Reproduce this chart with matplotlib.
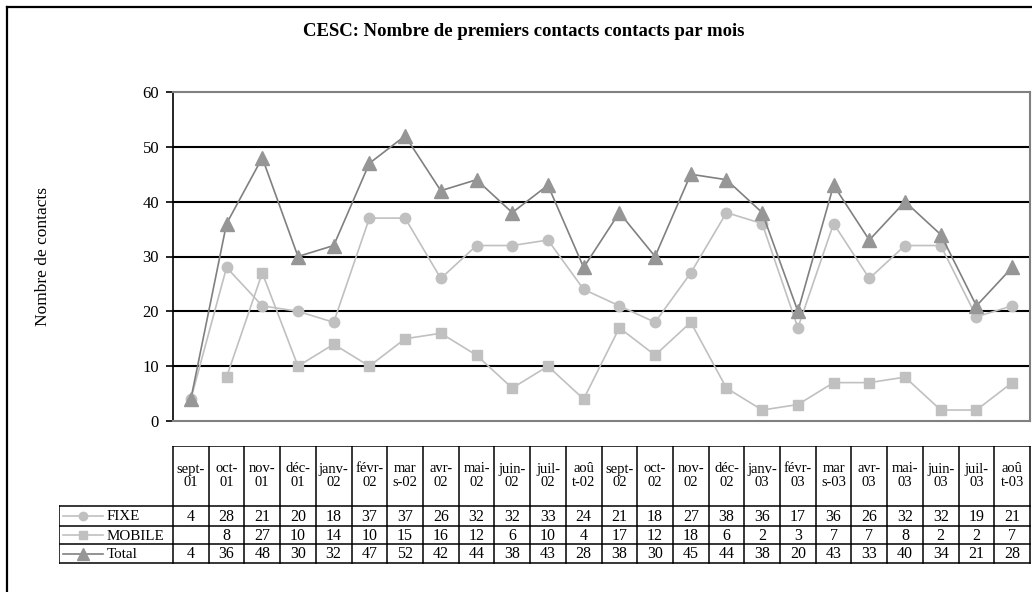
import numpy as np
import matplotlib
matplotlib.use("Agg")
import matplotlib.pyplot as plt
from matplotlib.lines import Line2D

plt.rcParams['font.family'] = ['Liberation Serif', 'DejaVu Serif']

# donnees
mois = ["sept-\n01", "oct-\n01", "nov-\n01", "déc-\n01", "janv-\n02", "févr-\n02",
        "mar\ns-02", "avr-\n02", "mai-\n02", "juin-\n02", "juil-\n02", "aoû\nt-02",
        "sept-\n02", "oct-\n02", "nov-\n02", "déc-\n02", "janv-\n03", "févr-\n03",
        "mar\ns-03", "avr-\n03", "mai-\n03", "juin-\n03", "juil-\n03", "aoû\nt-03"]
fixe = [4, 28, 21, 20, 18, 37, 37, 26, 32, 32, 33, 24, 21, 18, 27, 38, 36, 17, 36, 26, 32, 32, 19, 21]
mobile = [np.nan, 8, 27, 10, 14, 10, 15, 16, 12, 6, 10, 4, 17, 12, 18, 6, 2, 3, 7, 7, 8, 2, 2, 7]
total = [4, 36, 48, 30, 32, 47, 52, 42, 44, 38, 43, 28, 38, 30, 45, 44, 38, 20, 43, 33, 40, 34, 21, 28]
series = ["FIXE", "MOBILE", "Total"]
yticks = [0, 10, 20, 30, 40, 50, 60]

W, H = 1032, 592
fig = plt.figure(figsize=(W / 100, H / 100), dpi=100)

def fbox(x0, y0, x1, y1):
    # pixels (origine en haut a gauche) -> fraction de figure
    return [x0 / W, 1 - y1 / H, (x1 - x0) / W, (y1 - y0) / H]

# cadre exterieur
fig.add_artist(Line2D([6.5 / W, 6.5 / W], [0, 1 - 6.5 / H], color='black', lw=1.6))
fig.add_artist(Line2D([6.5 / W, 1], [1 - 6.5 / H, 1 - 6.5 / H], color='black', lw=1.6))

styles = {
    "FIXE": dict(color='#C0C0C0', marker='o', ms=7.5, mfc='#C0C0C0', mec='#C0C0C0'),
    "MOBILE": dict(color='#C0C0C0', marker='s', ms=7.5, mfc='#C0C0C0', mec='#C0C0C0'),
    "Total": dict(color='#808080', marker='^', ms=10.5, mfc='#969696', mec='#969696'),
}
data = {"FIXE": fixe, "MOBILE": mobile, "Total": total}

ax_left, ax_right = 173, 1030
ax = fig.add_axes(fbox(ax_left, 92, ax_right, 421))
n = len(mois)
x = np.arange(n) + 0.5
for s in series:
    ax.plot(x, data[s], lw=1.2, zorder=3, clip_on=False, **styles[s])
ax.set_xlim(0, n)
ax.set_ylim(0, 60)
ax.set_yticks(yticks)
ax.set_xticks([])
for v in yticks[1:-1]:
    ax.axhline(v, color='black', lw=1.5, zorder=1)
for side in ['top', 'right', 'bottom']:
    ax.spines[side].set_color('#808080')
    ax.spines[side].set_linewidth(1.5)
ax.spines['left'].set_color('black')
ax.spines['left'].set_linewidth(1.2)
ax.tick_params(axis='y', direction='out', length=5, width=1.2, labelsize=12, pad=5)
ax.set_ylabel("Nombre de contacts", fontsize=12.5)
ax.yaxis.set_label_coords((51 - ax_left) / (ax_right - ax_left), 0.5)

fig.text(524 / W, 1 - 32 / H, "CESC: Nombre de premiers contacts contacts par mois",
         ha='center', va='center', fontsize=13.5, fontweight='bold')

# tableau de donnees
tx0, ty0, ty1 = 59, 446, 563
tab = fig.add_axes(fbox(tx0, ty0, ax_right + 1, ty1 + 1))
tab.set_xlim(tx0, ax_right + 1)
tab.set_ylim(ty1 + 1, ty0)
tab.axis('off')
cw = (ax_right - ax_left) / n
rows = [446, 506, 526, 544, 563]
lc = dict(color='black', lw=1.1)
# lignes horizontales
tab.plot([ax_left, ax_right], [rows[0], rows[0]], **lc)
for r in rows[1:]:
    tab.plot([tx0, ax_right], [r, r], **lc)
# lignes verticales
tab.plot([tx0, tx0], [rows[1], rows[-1]], **lc)
for i in range(n + 1):
    xc = ax_left + i * cw
    tab.plot([xc, xc], [rows[0], rows[-1]], **lc)
for i, m in enumerate(mois):
    tab.text(ax_left + (i + 0.5) * cw, (rows[0] + rows[1]) / 2, m, ha='center',
             va='center', fontsize=10.5, linespacing=1.1)
for j, s in enumerate(series):
    yc = (rows[j + 1] + rows[j + 2]) / 2
    st = styles[s]
    tab.plot([63, 103], [yc, yc], color=st['color'], lw=1.2)
    tab.plot([83], [yc], marker=st['marker'], ms=st['ms'] * 0.8, mfc=st['mfc'],
             mec=st['mec'], ls='none')
    tab.text(107, yc + 1, s, ha='left', va='center', fontsize=10.8)
    for i, v in enumerate(data[s]):
        if not np.isnan(v):
            tab.text(ax_left + (i + 0.5) * cw, yc + 1, f"{int(v)}", ha='center',
                     va='center', fontsize=11.5)

fig.savefig("out.png", dpi=100)
